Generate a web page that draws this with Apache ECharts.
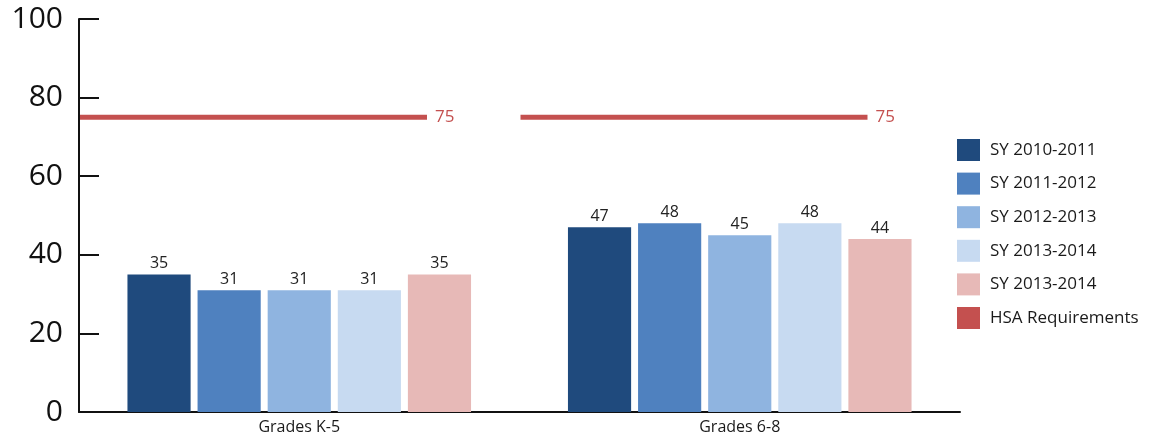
<!DOCTYPE html>
<html>
<head>
<meta charset="utf-8">
<script src="https://cdn.jsdelivr.net/npm/echarts@6/dist/echarts.min.js"></script>
<style>
  html, body { margin: 0; padding: 0; background: #fff; }
  #chart { width: 1155px; height: 442px; }
</style>
</head>
<body>
<div id="chart"></div>
<script>
// Grade bands on the x axis
const categories = ['Grades K-5', 'Grades 6-8'];
// Legend labels, in series order
const seriesLabels = ['SY 2010-2011', 'SY 2011-2012', 'SY 2012-2013', 'SY 2013-2014', 'SY 2013-2014', 'HSA Requirements'];
// Percent values per school year
const sy2010 = [35, 47];
const sy2011 = [31, 48];
const sy2012 = [31, 45];
const sy2013 = [31, 48];
const sy2013b = [35, 44];
// Required level for each grade band
const hsaRequirement = [75, 75];
// Y axis range
const yTicks = [0, 20, 40, 60, 80, 100];

const colors = ['#1f4a7d', '#4f81bf', '#8fb4e0', '#c7daf1', '#e7b9b7', '#c4504f'];
const FONT = 'Open Sans';

const barSeries = [sy2010, sy2011, sy2012, sy2013, sy2013b].map((vals, i) => ({
  name: 's' + i,
  type: 'bar',
  data: vals,
  barGap: '11%',
  barCategoryGap: '22%',
  itemStyle: { color: colors[i] },
  label: {
    show: true,
    position: 'top',
    distance: 3,
    color: '#222',
    fontFamily: FONT,
    fontSize: 16
  }
}));

const hsaSeries = {
  name: 's5',
  type: 'custom',
  itemStyle: { color: colors[5] },
  data: categories.map((c, i) => [i, hsaRequirement[i]]),
  encode: { x: 0, y: 1 },
  z: 5,
  renderItem: function (params, api) {
    const p = api.coord([api.value(0), api.value(1)]);
    const w = api.size([1, 0])[0];
    const x0 = p[0] - w / 2 + 1;
    const x1 = p[0] - w / 2 + w * 0.79;
    return {
      type: 'group',
      children: [
        {
          type: 'line',
          shape: { x1: x0, y1: p[1], x2: x1, y2: p[1] },
          style: { stroke: colors[5], lineWidth: 5 }
        },
        {
          type: 'text',
          style: {
            x: x1 + 8,
            y: p[1],
            text: String(api.value(1)),
            fill: colors[5],
            font: '17px "' + FONT + '"',
            verticalAlign: 'middle',
            align: 'left'
          }
        }
      ]
    };
  }
};

const chart = echarts.init(document.getElementById('chart'));
chart.setOption({
  animation: false,
  grid: { left: 79, right: 195, top: 19, bottom: 30 },
  legend: {
    orient: 'vertical',
    left: 957,
    top: 139,
    padding: 0,
    itemWidth: 23,
    itemHeight: 22,
    itemGap: 11.6,
    icon: 'rect',
    data: ['s0', 's1', 's2', 's3', 's4', 's5'],
    formatter: function (name) { return seriesLabels[+name.slice(1)]; },
    textStyle: { fontFamily: FONT, fontSize: 17, color: '#1a1a1a', padding: [0, 0, 0, 5] }
  },
  xAxis: {
    type: 'category',
    data: categories,
    axisLine: { lineStyle: { color: '#111', width: 2 } },
    axisTick: { inside: true, length: 8, lineStyle: { color: '#111', width: 2 } },
    axisLabel: { fontFamily: FONT, fontSize: 16, color: '#1a1a1a', margin: 7 }
  },
  yAxis: {
    type: 'value',
    min: yTicks[0],
    max: yTicks[yTicks.length - 1],
    interval: 20,
    splitLine: { show: false },
    axisLine: { show: true, lineStyle: { color: '#111', width: 2 } },
    axisTick: { show: true, inside: true, length: 20, lineStyle: { color: '#111', width: 2 } },
    axisLabel: { fontFamily: FONT, fontSize: 30, color: '#111', margin: 16 }
  },
  series: barSeries.concat([hsaSeries])
});
</script>
</body>
</html>
